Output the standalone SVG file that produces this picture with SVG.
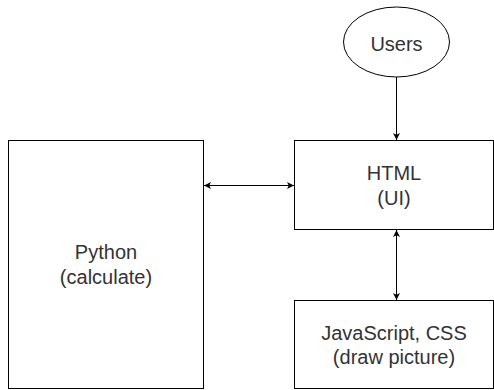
<svg xmlns="http://www.w3.org/2000/svg" width="494" height="390" viewBox="0 0 494 390">
<style>
.box{fill:#fff;stroke:#000;stroke-width:1}
.t{font-family:"Liberation Sans",Arial,sans-serif;font-size:20px;fill:#333;text-anchor:middle}
.c{fill:none;stroke:#000;stroke-width:1}
</style>
<defs>
<marker id="a" viewBox="0 0 10 10" refX="10" refY="5" markerWidth="7" markerHeight="7" markerUnits="userSpaceOnUse" orient="auto-start-reverse">
<path d="M0,0 L10,5 L0,10 L2.5,5 Z" fill="#000"/>
</marker>
</defs>
<rect width="494" height="390" fill="#fff"/>
<g id="connectors">
<line class="c" x1="396.5" y1="77" x2="396.5" y2="140" marker-end="url(#a)"/>
<line class="c" x1="204" y1="185.5" x2="294" y2="185.5" marker-start="url(#a)" marker-end="url(#a)"/>
<line class="c" x1="396.5" y1="230" x2="396.5" y2="300" marker-start="url(#a)" marker-end="url(#a)"/>
</g>
<g id="users">
<ellipse class="box" cx="396.5" cy="42" rx="53" ry="35"/>
<text class="t" x="396.5" y="51">Users</text>
</g>
<g id="html">
<rect class="box" x="294.5" y="140.5" width="199" height="89"/>
<text class="t" x="394" y="180">HTML</text>
<text class="t" x="394" y="205">(UI)</text>
</g>
<g id="python">
<rect class="box" x="8.5" y="140.5" width="195" height="248"/>
<text class="t" x="106" y="259">Python</text>
<text class="t" x="106" y="284">(calculate)</text>
</g>
<g id="js">
<rect class="box" x="294.5" y="300.5" width="199" height="88"/>
<text class="t" x="394" y="340">JavaScript, CSS</text>
<text class="t" x="394" y="364">(draw picture)</text>
</g>
</svg>
